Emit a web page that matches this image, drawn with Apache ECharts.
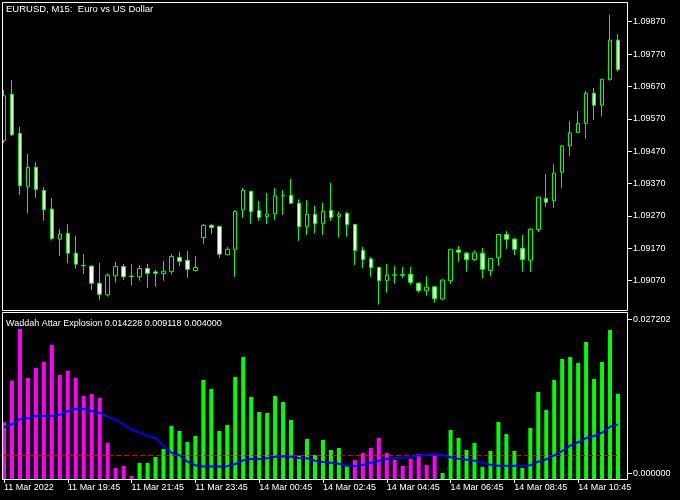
<!DOCTYPE html>
<html>
<head>
<meta charset="utf-8">
<script src="https://cdn.jsdelivr.net/npm/echarts@6.0.0/dist/echarts.min.js"></script>
<style>
html,body{margin:0;padding:0;background:#000;}
#chart{width:680px;height:500px;}
</style>
</head>
<body>
<div id="chart"></div>
<script>
// ---- data ----
const symbolTitle = 'EURUSD, M15:  Euro vs US Dollar';
const indicatorName = 'Waddah Attar Explosion';
const timeLabels = ['11 Mar 2022','11 Mar 19:45','11 Mar 21:45','11 Mar 23:45','14 Mar 00:45','14 Mar 02:45','14 Mar 04:45','14 Mar 06:45','14 Mar 08:45','14 Mar 10:45'];
const barsPerLabel = 8;
const priceTicks = [1.09070,1.09170,1.09270,1.09370,1.09470,1.09570,1.09670,1.09770,1.09870];
const indicatorTicks = [0, 0.027202];
const deadZone = 0.004;

const opens = [1.09502,1.09646,1.09525,1.09360,1.09420,1.09349,1.09291,1.09198,1.09216,1.09155,
1.09117,1.09115,1.09062,1.09026,1.09085,1.09114,1.09084,1.09082,1.09108,1.09097,
1.09092,1.09098,1.09142,1.09133,1.09101,1.09203,1.09241,1.09238,1.09150,1.09167,
1.09289,1.09346,1.09287,1.09268,1.09277,1.09333,1.09334,1.09309,1.09237,1.09275,
1.09246,1.09287,1.09268,1.09278,1.09244,1.09164,1.09137,1.09111,1.09070,1.09087,
1.09088,1.09090,1.09062,1.09039,1.09051,1.09013,1.09070,1.09165,1.09155,1.09135,
1.09155,1.09101,1.09141,1.09213,1.09198,1.09170,1.09133,1.09228,1.09324,1.09317,
1.09405,1.09486,1.09528,1.09556,1.09649,1.09612,1.09691,1.09813];
const closes = [1.09641,1.09521,1.09363,1.09420,1.09352,1.09289,1.09200,1.09214,1.09155,1.09121,
1.09116,1.09062,1.09028,1.09087,1.09114,1.09082,1.09083,1.09108,1.09093,1.09093,
1.09099,1.09145,1.09130,1.09105,1.09111,1.09241,1.09234,1.09152,1.09167,1.09284,
1.09349,1.09283,1.09265,1.09275,1.09332,1.09332,1.09309,1.09237,1.09275,1.09246,
1.09284,1.09265,1.09275,1.09243,1.09163,1.09135,1.09111,1.09070,1.09087,1.09088,
1.09087,1.09065,1.09039,1.09050,1.09014,1.09072,1.09167,1.09158,1.09135,1.09156,
1.09105,1.09139,1.09213,1.09198,1.09167,1.09135,1.09229,1.09328,1.09312,1.09402,
1.09486,1.09527,1.09556,1.09649,1.09612,1.09692,1.09813,1.09722];
const lows = [1.09495,1.09517,1.09335,1.09278,1.09326,1.09255,1.09194,1.09146,1.09124,1.09107,
1.09091,1.09041,1.09010,1.09021,1.09064,1.09072,1.09055,1.09070,1.09048,1.09051,
1.09070,1.09089,1.09115,1.09079,1.09098,1.09184,1.09215,1.09141,1.09149,1.09082,
1.09264,1.09245,1.09255,1.09245,1.09257,1.09273,1.09308,1.09193,1.09211,1.09216,
1.09211,1.09255,1.09203,1.09206,1.09118,1.09109,1.09082,1.08996,1.09033,1.09061,
1.09079,1.09057,1.09033,1.09024,1.09002,1.09010,1.09060,1.09128,1.09098,1.09131,
1.09078,1.09085,1.09116,1.09168,1.09149,1.09098,1.09097,1.09220,1.09298,1.09295,
1.09357,1.09456,1.09527,1.09509,1.09567,1.09577,1.09688,1.09716];
const highs = [1.09659,1.09690,1.09545,1.09461,1.09437,1.09359,1.09325,1.09230,1.09245,1.09208,
1.09152,1.09118,1.09125,1.09093,1.09128,1.09122,1.09122,1.09118,1.09122,1.09103,
1.09131,1.09152,1.09159,1.09162,1.09146,1.09245,1.09245,1.09239,1.09174,1.09288,
1.09356,1.09347,1.09316,1.09341,1.09356,1.09350,1.09384,1.09321,1.09319,1.09301,
1.09310,1.09372,1.09284,1.09283,1.09245,1.09174,1.09143,1.09112,1.09122,1.09115,
1.09112,1.09112,1.09065,1.09084,1.09052,1.09074,1.09168,1.09177,1.09159,1.09163,
1.09171,1.09140,1.09214,1.09223,1.09202,1.09211,1.09232,1.09329,1.09400,1.09430,
1.09489,1.09563,1.09594,1.09656,1.09665,1.09694,1.09891,1.09832];

const trendDown = [0.00951,0.01641,0.02503,0.01686,0.01853,0.01953,0.02236,0.01736,0.01802,0.01686,
0.01385,0.01419,0.01352,0.00601,0.00184,0.00217,0.00050,null,null,null,
null,null,null,null,null,null,null,null,null,null,
null,null,null,null,null,null,null,null,null,null,
null,null,null,null,0.00317,0.00434,0.00517,0.00684,0.00434,0.00317,
0.00217,0.00334,0.00417,0.00234,0.00389,null,null,null,null,null,
null,null,null,null,null,null,null,null,null,null,
null,null,null,null,null,null,null,null];
const trendUp = [null,null,null,null,null,null,null,null,null,null,
null,null,null,null,null,null,null,0.00267,0.00267,0.00367,
0.00501,0.00885,0.00801,0.00618,0.00718,0.01652,0.01502,0.00801,0.00901,0.01702,
0.02036,0.01369,0.01118,0.01102,0.01385,0.01285,0.00985,0.00389,0.00668,0.00401,
0.00651,0.00484,0.00517,0.00217,null,null,null,null,null,null,
null,null,null,null,null,0.00100,0.00818,0.00684,0.00484,0.00601,
0.00200,0.00467,0.00951,0.00751,0.00467,0.00184,0.00851,0.01452,0.01152,0.01652,
0.02003,0.02036,0.01936,0.02287,0.01669,0.01953,0.02487,0.014228];
const explosionLine = [0.00863,0.00913,0.01001,0.01013,0.01051,0.01051,0.01051,0.01073,0.01130,0.01168,
0.01168,0.01135,0.01102,0.01040,0.00985,0.00913,0.00818,0.00773,0.00723,0.00679,
0.00551,0.00439,0.00396,0.00289,0.00229,0.00209,0.00209,0.00209,0.00212,0.00250,
0.00312,0.00334,0.00334,0.00345,0.00372,0.00379,0.00372,0.00350,0.00345,0.00305,
0.00284,0.00272,0.00255,0.00222,0.00217,0.00234,0.00272,0.00305,0.00339,0.00350,
0.00354,0.00367,0.00392,0.00406,0.00412,0.00396,0.00362,0.00339,0.00322,0.00305,
0.00272,0.00239,0.00222,0.00222,0.00222,0.00222,0.00229,0.00289,0.00329,0.00396,
0.00467,0.00556,0.00613,0.00684,0.00718,0.00773,0.00873,0.009118];

// ---- build ----
const n = opens.length;
const cats = opens.map((_, i) => 'b' + i);
const candles = opens.map((o, i) => [o, closes[i], lows[i], highs[i]]);
const lastIdx = n - 1;
const lastHist = trendUp[lastIdx] != null ? trendUp[lastIdx] : trendDown[lastIdx];
const indTitle = indicatorName + ' ' + lastHist.toFixed(6) + ' ' + explosionLine[lastIdx].toFixed(6) + ' ' + deadZone.toFixed(6);

const FONT = 'Liberation Sans';
const chart = echarts.init(document.getElementById('chart'), null, {renderer: 'canvas'});
chart.setOption({
  backgroundColor: '#000000',
  animation: false,
  title: [
    {text: symbolTitle, left: 6, top: 3, padding: 0,
     textStyle: {color: '#ffffff', fontSize: 9.5, fontWeight: 'normal', fontFamily: FONT, lineHeight: 12}},
    {text: indTitle, left: 6, top: 318, padding: 0,
     textStyle: {color: '#ffffff', fontSize: 9, fontWeight: 'normal', fontFamily: FONT, lineHeight: 12}}
  ],
  grid: [
    {left: -2, top: 2, width: 624, height: 308},
    {left: -2, top: 313, width: 624, height: 166}
  ],
  xAxis: [
    {type: 'category', gridIndex: 0, data: cats, boundaryGap: true, show: false},
    {type: 'category', gridIndex: 1, data: cats, boundaryGap: true,
     axisLine: {show: false},
     axisTick: {show: true, interval: barsPerLabel - 1, alignWithLabel: true, length: 4, lineStyle: {color: '#ffffff'}},
     axisLabel: {interval: barsPerLabel - 1, align: 'left', color: '#ffffff', fontSize: 9, fontFamily: FONT, margin: 4,
       formatter: (v, i) => timeLabels[Math.round(i / barsPerLabel)] || ''},
     splitLine: {show: false}}
  ],
  yAxis: [
    {type: 'value', gridIndex: 0, position: 'right', offset: 5, min: 1.089795, max: 1.099308,
     splitLine: {show: false}, axisLine: {show: false},
     axisTick: {show: true, length: 5, customValues: priceTicks, lineStyle: {color: '#ffffff'}},
     axisLabel: {customValues: priceTicks, formatter: v => v.toFixed(5), color: '#ffffff', fontSize: 9, fontFamily: FONT, margin: 6}},
    {type: 'value', gridIndex: 1, min: 0, max: 0.0277, show: false, splitLine: {show: false}},
    {type: 'value', gridIndex: 1, position: 'right', offset: 5, min: -0.001007, max: 0.028315,
     splitLine: {show: false}, axisLine: {show: false},
     axisTick: {show: true, length: 5, customValues: indicatorTicks, lineStyle: {color: '#ffffff'}},
     axisLabel: {customValues: indicatorTicks, formatter: v => v.toFixed(6), color: '#ffffff', fontSize: 9, fontFamily: FONT, margin: 6}}
  ],
  series: [
    {type: 'candlestick', xAxisIndex: 0, yAxisIndex: 0, data: candles, barWidth: 4,
     itemStyle: {color: '#000000', color0: '#ffffff', borderColor: '#00ff00', borderColor0: '#00ff00', borderColorDoji: '#00ff00', borderWidth: 1}},
    {type: 'bar', name: 'down', xAxisIndex: 1, yAxisIndex: 1, data: trendDown, barWidth: 4, barGap: '-100%',
     itemStyle: {color: '#ff00ff'}},
    {type: 'bar', name: 'up', xAxisIndex: 1, yAxisIndex: 1, data: trendUp, barWidth: 4, barGap: '-100%',
     itemStyle: {color: '#00ff00'}},
    {type: 'line', xAxisIndex: 1, yAxisIndex: 1, data: explosionLine, showSymbol: false, symbol: 'none',
     lineStyle: {color: '#0000ff', width: 2}, z: 5,
     markLine: {silent: true, symbol: ['none', 'none'], label: {show: false},
       lineStyle: {color: '#d00000', width: 1, type: [5, 3]},
       data: [[{coord: [cats[0], deadZone]}, {coord: [cats[lastIdx], deadZone]}]]}}
  ],
  graphic: [
    {type: 'rect', shape: {x: 0, y: 0, width: 2, height: 500}, style: {fill: '#000000'}, z: 100},
    {type: 'rect', shape: {x: 2.5, y: 2.5, width: 625, height: 308}, style: {fill: 'transparent', stroke: '#ffffff', lineWidth: 1}, z: 101},
    {type: 'rect', shape: {x: 2.5, y: 312.5, width: 625, height: 167}, style: {fill: 'transparent', stroke: '#ffffff', lineWidth: 1}, z: 101}
  ]
});
</script>
</body>
</html>
